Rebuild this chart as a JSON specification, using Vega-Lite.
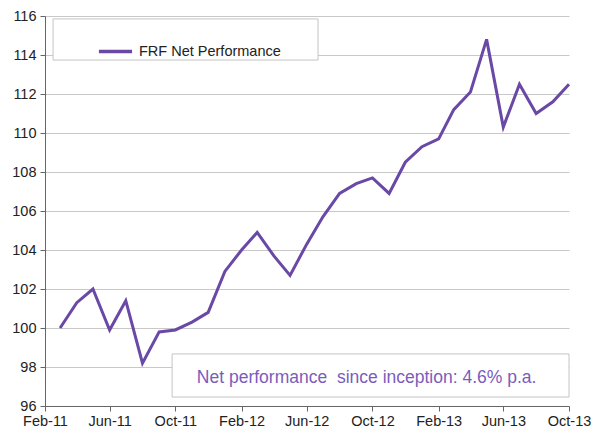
{
  "$schema": "https://vega.github.io/schema/vega-lite/v6.json",
  "width": 524,
  "height": 390,
  "autosize": {"type": "none"},
  "padding": {"left": 45, "top": 16, "right": 27, "bottom": 28},
  "background": "white",
  "config": {
    "view": {"stroke": null},
    "font": "Liberation Sans"
  },
  "resolve": {"axis": {"x": "independent", "y": "independent"}},
  "datasets": {
    "perf": [
      {"date": "2011-03-01", "value": 100.0},
      {"date": "2011-04-01", "value": 101.3},
      {"date": "2011-05-01", "value": 102.0},
      {"date": "2011-06-01", "value": 99.9},
      {"date": "2011-07-01", "value": 101.4},
      {"date": "2011-08-01", "value": 98.2},
      {"date": "2011-09-01", "value": 99.8},
      {"date": "2011-10-01", "value": 99.9},
      {"date": "2011-11-01", "value": 100.3},
      {"date": "2011-12-01", "value": 100.8},
      {"date": "2012-01-01", "value": 102.9},
      {"date": "2012-02-01", "value": 104.0},
      {"date": "2012-03-01", "value": 104.9},
      {"date": "2012-04-01", "value": 103.7},
      {"date": "2012-05-01", "value": 102.7},
      {"date": "2012-06-01", "value": 104.3},
      {"date": "2012-07-01", "value": 105.7},
      {"date": "2012-08-01", "value": 106.9},
      {"date": "2012-09-01", "value": 107.4},
      {"date": "2012-10-01", "value": 107.7},
      {"date": "2012-11-01", "value": 106.9},
      {"date": "2012-12-01", "value": 108.5},
      {"date": "2013-01-01", "value": 109.3},
      {"date": "2013-02-01", "value": 109.7},
      {"date": "2013-03-01", "value": 111.2},
      {"date": "2013-04-01", "value": 112.1},
      {"date": "2013-05-01", "value": 114.8},
      {"date": "2013-06-01", "value": 110.3},
      {"date": "2013-07-01", "value": 112.5},
      {"date": "2013-08-01", "value": 111.0},
      {"date": "2013-09-01", "value": 111.6},
      {"date": "2013-10-01", "value": 112.5}
    ]
  },
  "layer": [
    {
      "data": {"values": [{"series": "FRF Net Performance"}]},
      "mark": {"type": "rect", "fill": "white", "stroke": "#c4c4c4", "strokeWidth": 1},
      "encoding": {
        "x": {"datum": {"year": 2011, "month": 2, "date": 16, "utc": true}, "type": "temporal", "axis": null},
        "x2": {"datum": {"year": 2012, "month": 6, "date": 22, "utc": true}},
        "y": {"datum": 115.85, "type": "quantitative", "axis": null},
        "y2": {"datum": 113.74}
      }
    },
    {
      "data": {"values": [{"note": "Net performance  since inception: 4.6% p.a."}]},
      "mark": {"type": "rect", "fill": "white", "stroke": "#c4c4c4", "strokeWidth": 1},
      "encoding": {
        "x": {"datum": {"year": 2011, "month": 9, "date": 25, "utc": true}, "type": "temporal", "axis": null},
        "x2": {"datum": {"year": 2013, "month": 10, "date": 1, "utc": true}},
        "y": {"datum": 98.67, "type": "quantitative", "axis": null},
        "y2": {"datum": 96.46}
      }
    },
    {
      "data": {"values": [{"note": "Net performance\u00a0 since inception: 4.6% p.a."}]},
      "mark": {"type": "text", "align": "left", "baseline": "alphabetic", "fontSize": 17.5, "color": "#7b5cbc", "font": "Liberation Sans"},
      "encoding": {
        "x": {"datum": {"year": 2011, "month": 11, "date": 10, "utc": true}, "type": "temporal", "axis": null},
        "y": {"datum": 97.18, "type": "quantitative", "axis": null},
        "text": {"field": "note"}
      }
    },
    {
      "data": {"name": "perf"},
      "transform": [{"calculate": "'FRF Net Performance'", "as": "series"}],
      "mark": {"type": "line", "strokeWidth": 3, "strokeJoin": "miter"},
      "encoding": {
        "x": {
          "field": "date",
          "type": "temporal",
          "scale": {
            "type": "utc",
            "domain": [
              {"year": 2011, "month": 2, "date": 1, "utc": true},
              {"year": 2013, "month": 10, "date": 1, "utc": true}
            ]
          },
          "axis": {
            "title": null,
            "grid": false,
            "format": "%b-%y",
            "values": [
              {"year": 2011, "month": 2, "date": 1, "utc": true},
              {"year": 2011, "month": 6, "date": 1, "utc": true},
              {"year": 2011, "month": 10, "date": 1, "utc": true},
              {"year": 2012, "month": 2, "date": 1, "utc": true},
              {"year": 2012, "month": 6, "date": 1, "utc": true},
              {"year": 2012, "month": 10, "date": 1, "utc": true},
              {"year": 2013, "month": 2, "date": 1, "utc": true},
              {"year": 2013, "month": 6, "date": 1, "utc": true},
              {"year": 2013, "month": 10, "date": 1, "utc": true}
            ],
            "labelFont": "Liberation Sans",
            "labelFontSize": 14.5,
            "labelColor": "#222222",
            "labelPadding": 3,
            "labelFlush": false,
            "labelOverlap": false,
            "domainColor": "#666666",
            "tickColor": "#666666",
            "tickSize": 5
          }
        },
        "y": {
          "field": "value",
          "type": "quantitative",
          "scale": {"domain": [96, 116], "nice": false, "zero": false},
          "axis": {
            "title": null,
            "values": [96, 98, 100, 102, 104, 106, 108, 110, 112, 114, 116],
            "labelFont": "Liberation Sans",
            "labelFontSize": 14.5,
            "labelColor": "#222222",
            "labelPadding": 4,
            "labelFlush": false,
            "labelOverlap": false,
            "domainColor": "#666666",
            "tickColor": "#666666",
            "tickSize": 5,
            "grid": true,
            "gridColor": "#c8c8c8",
            "gridWidth": 1
          }
        },
        "color": {
          "field": "series",
          "type": "nominal",
          "scale": {"range": ["#6a48a6"]},
          "legend": {
            "title": null,
            "orient": "none",
            "legendX": 52,
            "legendY": 17,
            "padding": 0,
            "symbolType": "stroke",
            "symbolSize": 1100,
            "symbolStrokeWidth": 3.5,
            "labelOffset": 5,
            "labelFont": "Liberation Sans",
            "labelFontSize": 14.5,
            "labelColor": "#222222",
            "labelLimit": 400
          }
        }
      }
    }
  ]
}
